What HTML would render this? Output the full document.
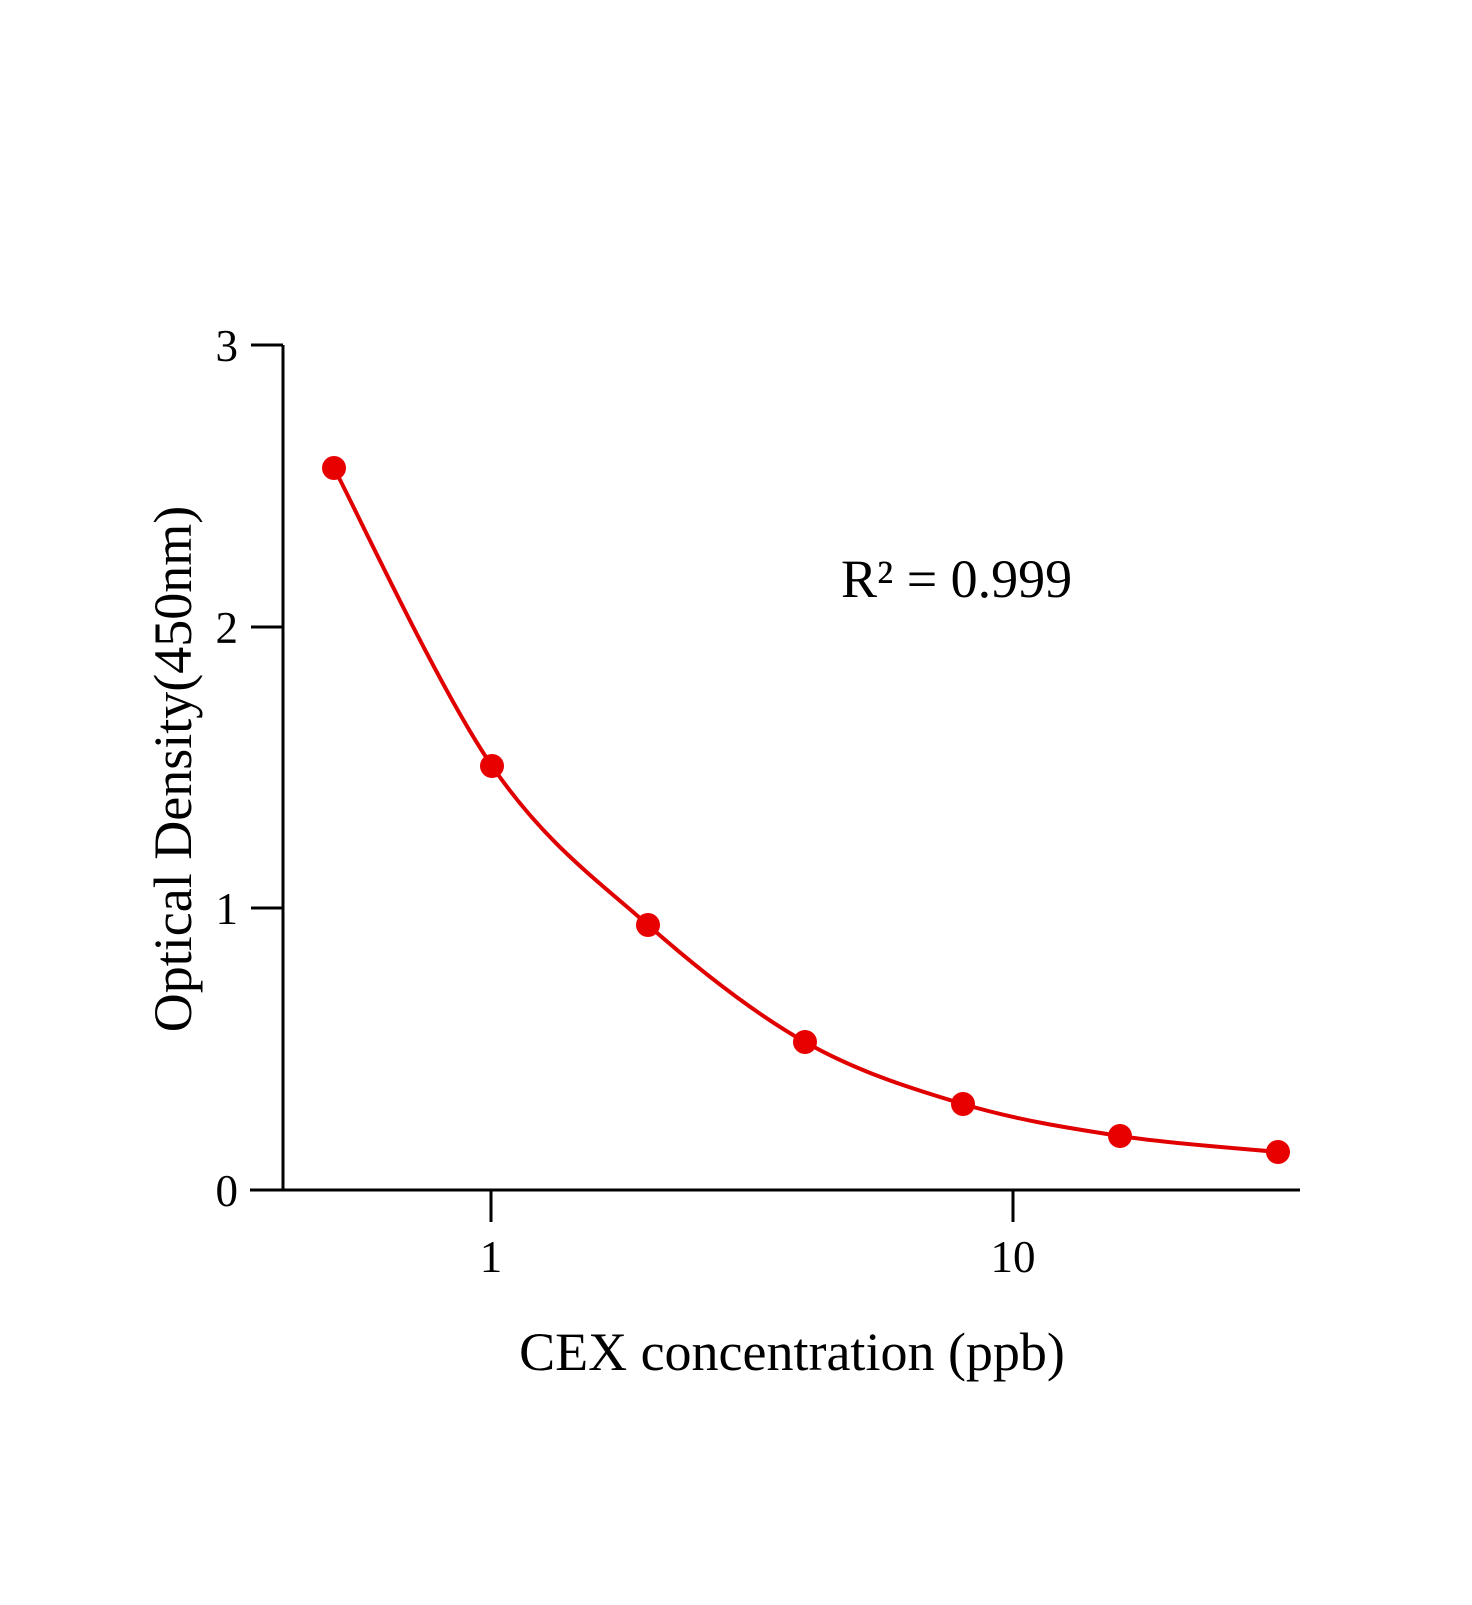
<!DOCTYPE html>
<html><head><style>body{margin:0;background:#fff}</style></head><body>
<svg width="1472" height="1600" xmlns="http://www.w3.org/2000/svg" font-family="Liberation Serif, serif">
<rect width="1472" height="1600" fill="#fff"/>
<g stroke="#000" stroke-width="3" fill="none">
<line x1="283" y1="345" x2="283" y2="1190"/>
<line x1="250" y1="1190" x2="1300" y2="1190"/>
<line x1="251" y1="345" x2="283" y2="345"/>
<line x1="251" y1="627" x2="283" y2="627"/>
<line x1="251" y1="908" x2="283" y2="908"/>
<line x1="491" y1="1190" x2="491" y2="1222"/>
<line x1="1013" y1="1190" x2="1013" y2="1222"/>
</g>
<g font-size="45" text-anchor="end" fill="#000">
<text x="238" y="361">3</text>
<text x="238" y="643">2</text>
<text x="238" y="924">1</text>
<text x="238" y="1206">0</text>
</g>
<g font-size="45" text-anchor="middle" fill="#000">
<text x="491" y="1272">1</text>
<text x="1013" y="1272">10</text>
<text x="792" y="1370" font-size="54">CEX concentration (ppb)</text>
<text transform="translate(191,769) rotate(-90)" font-size="54">Optical Density(450nm)</text>
</g>
<text x="841" y="597" font-size="54" fill="#000">R² = 0.999</text>
<path d="M334,468 C360,518 439.7,689.8 492,766 C544.3,842.2 595.8,879 648,925 C700.2,971 752.5,1012.2 805,1042 C857.5,1071.8 910.5,1088.3 963,1104 C1015.5,1119.7 1067.5,1128 1120,1136 C1172.5,1144 1251.7,1149.3 1278,1152" stroke="#e00000" stroke-width="4" fill="none"/>
<g fill="#e80000">
<circle cx="334" cy="468" r="12"/>
<circle cx="492" cy="766" r="12"/>
<circle cx="648" cy="925" r="12"/>
<circle cx="805" cy="1042" r="12"/>
<circle cx="963" cy="1104" r="12"/>
<circle cx="1120" cy="1136" r="12"/>
<circle cx="1278" cy="1152" r="12"/>
</g>
</svg>
</body></html>
